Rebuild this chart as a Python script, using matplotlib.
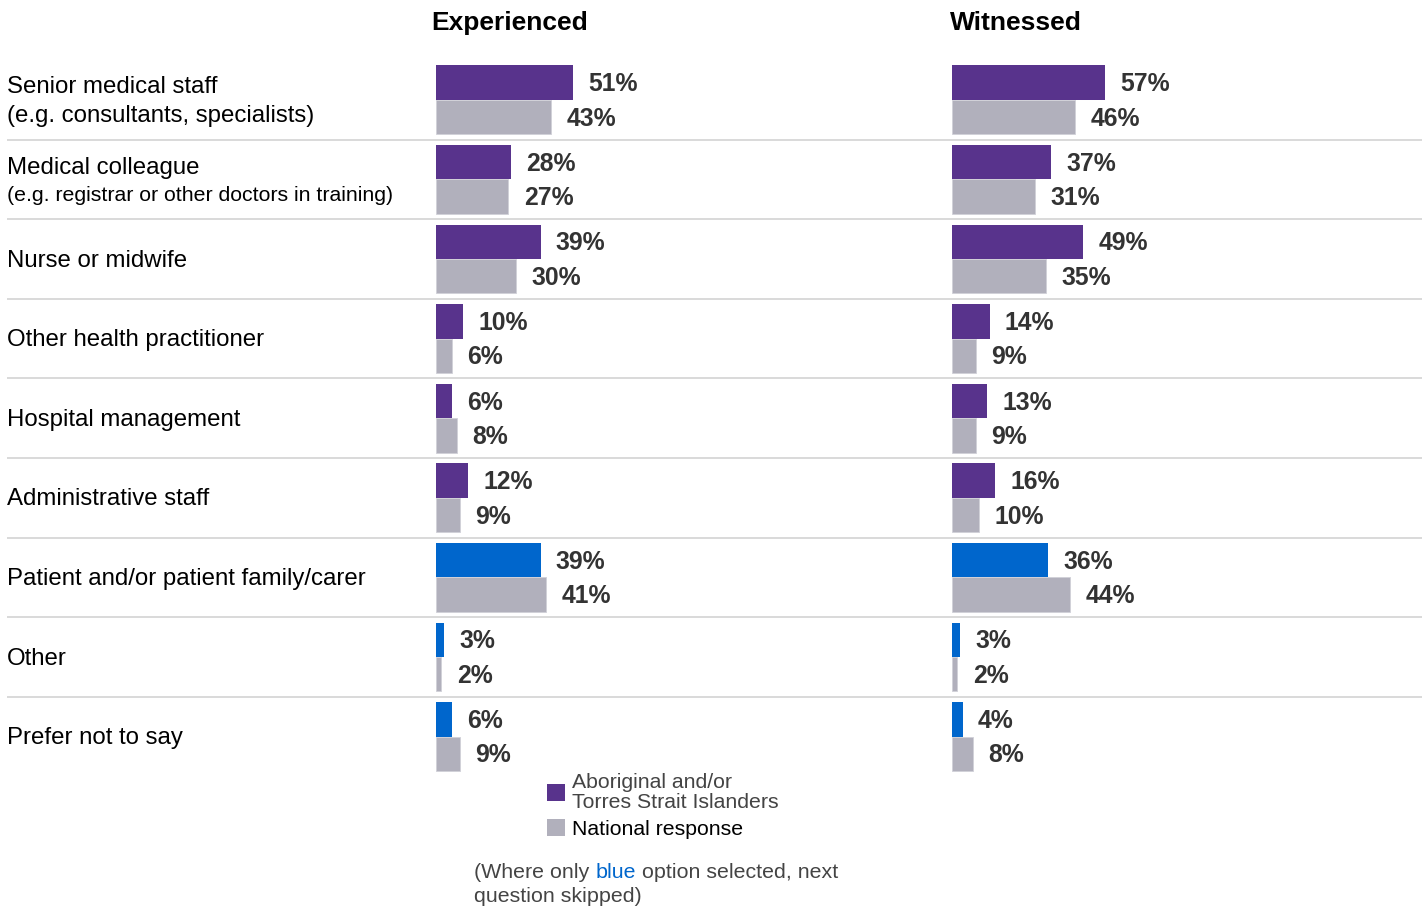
import matplotlib
matplotlib.use("Agg")
import matplotlib.pyplot as plt
from matplotlib.patches import Patch

plt.rcParams['font.family'] = ['Liberation Sans', 'DejaVu Sans']

categories = [
    "Senior medical staff\n(e.g. consultants, specialists)",
    "Medical colleague",
    "Nurse or midwife",
    "Other health practitioner",
    "Hospital management",
    "Administrative staff",
    "Patient and/or patient family/carer",
    "Other",
    "Prefer not to say",
]
sub_note = "(e.g. registrar or other doctors in training)"

exp_group = [51, 28, 39, 10, 6, 12, 39, 3, 6]
exp_nat = [43, 27, 30, 6, 8, 9, 41, 2, 9]
wit_group = [57, 37, 49, 14, 13, 16, 36, 3, 4]
wit_nat = [46, 31, 35, 9, 9, 10, 44, 2, 8]

PURPLE = "#58338C"
BLUE = "#0066CC"
GREY = "#B1B0BC"
LABEL = "#333333"
blue_rows = {6, 7, 8}

W, H = 1427, 907
fig = plt.figure(figsize=(W / 100, H / 100), dpi=100)

n = len(categories)
top, bottom = 60, 60 + 79.6 * n
ax_b = (1 - bottom / H, (bottom - top) / H)

# background axes for row labels and separators
bg = fig.add_axes([7 / W, ax_b[0], 1415 / W, ax_b[1]])
bg.set_xlim(0, 1)
bg.set_ylim(n - 0.5, -0.5)
bg.axis("off")
for i in range(n - 1):
    bg.axhline(i + 0.5, color="#D9D9D9", lw=1.4)

for i, cat in enumerate(categories):
    if i == 1:
        bg.text(0, i - 0.14, cat, fontsize=17.3, va="center", ha="left")
        bg.text(0, i + 0.2, sub_note, fontsize=15.3, va="center", ha="left")
    else:
        bg.text(0, i + 0.02, cat, fontsize=17.3, va="center", ha="left", linespacing=1.38)

bh = 0.433


def panel(left_px, group, nat, title, title_px):
    ax = fig.add_axes([left_px / W, ax_b[0], 268 / W, ax_b[1]], sharey=bg)
    ax.set_xlim(0, 100)
    ax.axis("off")
    ys = range(n)
    cols = [BLUE if i in blue_rows else PURPLE for i in ys]
    b1 = ax.barh([y - bh / 2 for y in ys], group, height=bh, color=cols)
    b2 = ax.barh([y + bh / 2 for y in ys], nat, height=bh, color=GREY,
                 edgecolor="#D0D0D8", linewidth=0.6)
    for bars, vals in ((b1, group), (b2, nat)):
        for bar, v in zip(bars, vals):
            ax.annotate(f"{v}%", (bar.get_width(), bar.get_y() + bar.get_height() / 2 + 0.02),
                        xytext=(11, 0), textcoords="offset points",
                        ha="left", va="center", fontsize=17.8,
                        fontweight="bold", color=LABEL)
    fig.text(title_px / W, 1 - 23 / H, title, fontsize=19, fontweight="bold",
             ha="left", va="center")
    return ax


panel(436, exp_group, exp_nat, "Experienced", 431)
panel(952, wit_group, wit_nat, "Witnessed", 950)

handles = [Patch(facecolor=PURPLE), Patch(facecolor=GREY)]
leg = fig.legend(handles, ["Aboriginal and/or\nTorres Strait Islanders", "National response"],
                 loc="upper left", bbox_to_anchor=(547 / W, 1 - 773 / H),
                 frameon=False, fontsize=15.3, handlelength=0.85, handleheight=0.85,
                 handletextpad=0.35, labelspacing=0.35, borderpad=0, borderaxespad=0)
leg.get_texts()[0].set_color("#444444")
leg.get_texts()[0].set_linespacing(1.05)
leg.get_texts()[1].set_color("black")

# footnote with the coloured word
note_y = 1 - 872 / H
t1 = fig.text(474 / W, note_y, "(Where only ", fontsize=15.4, color="#444444", va="center")
fig.canvas.draw()
x1 = t1.get_window_extent().x1 / W
t2 = fig.text(x1, note_y, "blue", fontsize=15.4, color=BLUE, va="center")
fig.canvas.draw()
x2 = t2.get_window_extent().x1 / W
fig.text(x2, note_y, " option selected, next", fontsize=15.4, color="#444444", va="center")
fig.text(474 / W, 1 - 896 / H, "question skipped)", fontsize=15.4, color="#444444", va="center")

fig.savefig("out.png", dpi=100)
